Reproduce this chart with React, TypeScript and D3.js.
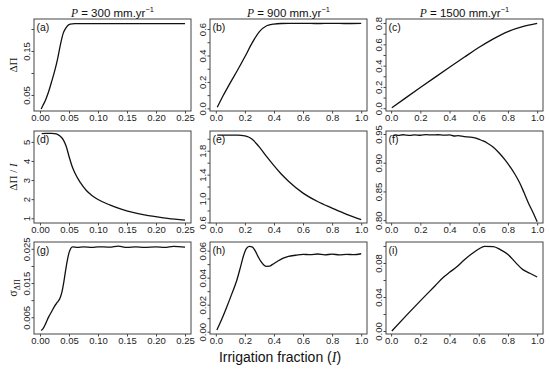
import React, { useEffect, useRef } from 'react';
import * as d3 from 'd3';

// Column titles (precipitation) and row labels
const precipitation = ['300', '900', '1500'];
const panelLetters = ['(a)', '(b)', '(c)', '(d)', '(e)', '(f)', '(g)', '(h)', '(i)'];

// x tick values per column
const xTicksNarrow = [0, 0.05, 0.1, 0.15, 0.2, 0.25];
const xTicksWide = [0, 0.2, 0.4, 0.6, 0.8, 1.0];

// Row 1: delta Pi
const seriesA: [number, number][] = [
  [0.002, 0.018], [0.005, 0.026], [0.01, 0.040], [0.015, 0.058], [0.02, 0.080],
  [0.025, 0.103], [0.03, 0.130], [0.035, 0.163], [0.04, 0.190], [0.044, 0.201],
  [0.048, 0.208], [0.052, 0.211], [0.06, 0.212], [0.1, 0.212], [0.15, 0.212],
  [0.2, 0.212], [0.25, 0.212],
];
const seriesB: [number, number][] = [
  [0.01, 0.008], [0.05, 0.095], [0.1, 0.195], [0.15, 0.29], [0.2, 0.39],
  [0.25, 0.495], [0.3, 0.58], [0.35, 0.625], [0.4, 0.638], [0.45, 0.642],
  [0.5, 0.643], [0.6, 0.643], [0.7, 0.642], [0.8, 0.643], [0.9, 0.642], [1.0, 0.643],
];
const seriesC: [number, number][] = [
  [0.005, 0.004], [0.1, 0.097], [0.2, 0.194], [0.3, 0.29], [0.4, 0.385],
  [0.5, 0.478], [0.6, 0.57], [0.7, 0.652], [0.8, 0.72], [0.9, 0.766], [1.0, 0.796],
];

// Row 2: delta Pi / I
const seriesD: [number, number][] = [
  [0.003, 5.43], [0.01, 5.45], [0.02, 5.45], [0.028, 5.42], [0.034, 5.32],
  [0.04, 5.12], [0.045, 4.78], [0.05, 4.25], [0.055, 3.75], [0.06, 3.38],
  [0.07, 2.85], [0.08, 2.45], [0.09, 2.18], [0.1, 1.98], [0.12, 1.7],
  [0.14, 1.48], [0.16, 1.31], [0.18, 1.18], [0.2, 1.08], [0.22, 0.99], [0.25, 0.9],
];
const seriesE: [number, number][] = [
  [0.01, 2.06], [0.1, 2.06], [0.15, 2.06], [0.2, 2.05], [0.225, 2.03],
  [0.25, 1.99], [0.275, 1.93], [0.3, 1.86], [0.35, 1.7], [0.4, 1.55],
  [0.45, 1.41], [0.5, 1.29], [0.6, 1.09], [0.7, 0.95], [0.8, 0.84],
  [0.9, 0.735], [1.0, 0.645],
];
const seriesF: [number, number][] = [
  [0.01, 0.9465], [0.03, 0.9485], [0.05, 0.9478], [0.08, 0.9488], [0.1, 0.9482],
  [0.13, 0.9476], [0.16, 0.9486], [0.2, 0.9479], [0.24, 0.9489], [0.28, 0.9484],
  [0.32, 0.9488], [0.36, 0.948], [0.4, 0.9484], [0.43, 0.9466], [0.46, 0.9472],
  [0.5, 0.9455], [0.54, 0.9448], [0.58, 0.943], [0.6, 0.941], [0.63, 0.938],
  [0.66, 0.934], [0.7, 0.927], [0.74, 0.917], [0.78, 0.905], [0.82, 0.891],
  [0.85, 0.879], [0.88, 0.865], [0.91, 0.848], [0.94, 0.83], [0.97, 0.814], [1.0, 0.797],
];

// Row 3: sigma of delta Pi
const seriesG: [number, number][] = [
  [0.002, 0.0011], [0.005, 0.0016], [0.01, 0.0032], [0.015, 0.0051], [0.02, 0.0066],
  [0.025, 0.0082], [0.03, 0.0094], [0.035, 0.0108], [0.038, 0.0125], [0.041, 0.0152],
  [0.044, 0.0185], [0.047, 0.0215], [0.05, 0.0238], [0.053, 0.0251], [0.056, 0.0256],
  [0.065, 0.0254], [0.075, 0.0256], [0.09, 0.0254], [0.1, 0.0256], [0.12, 0.0255],
  [0.135, 0.0258], [0.15, 0.0254], [0.165, 0.0256], [0.18, 0.0254], [0.2, 0.0256],
  [0.215, 0.0254], [0.23, 0.0257], [0.25, 0.0255],
];
const seriesH: [number, number][] = [
  [0.007, 0.0012], [0.04, 0.009], [0.076, 0.0185], [0.11, 0.028], [0.145, 0.0383],
  [0.17, 0.048], [0.19, 0.056], [0.21, 0.0615], [0.23, 0.0632], [0.25, 0.0628],
  [0.27, 0.060], [0.29, 0.0558], [0.31, 0.052], [0.33, 0.0494], [0.35, 0.0484],
  [0.37, 0.0485], [0.39, 0.0498], [0.42, 0.0518], [0.46, 0.0543], [0.5, 0.0558],
  [0.55, 0.0566], [0.6, 0.0573], [0.65, 0.057], [0.7, 0.0575], [0.75, 0.0569],
  [0.8, 0.0574], [0.85, 0.0569], [0.9, 0.0573], [0.95, 0.057], [1.0, 0.0577],
];
const seriesI: [number, number][] = [
  [0.005, 0.0], [0.1, 0.0175], [0.2, 0.0355], [0.3, 0.053], [0.36, 0.0635],
  [0.4, 0.069], [0.45, 0.0755], [0.5, 0.0835], [0.55, 0.0905], [0.6, 0.0965],
  [0.64, 0.0995], [0.7, 0.0993], [0.75, 0.0955], [0.8, 0.09], [0.85, 0.081],
  [0.9, 0.0725], [0.95, 0.068], [1.0, 0.0635],
];

// y ticks: all ticks, and which of them get a label
const yTicksA = [0.05, 0.1, 0.15, 0.2];
const yLabelsA = [0.05, 0.15];
const yTicksB = [0, 0.1, 0.2, 0.3, 0.4, 0.5, 0.6];
const yLabelsB = [0, 0.2, 0.4, 0.6];
const yTicksC = [0, 0.1, 0.2, 0.3, 0.4, 0.5, 0.6, 0.7, 0.8];
const yLabelsC = [0, 0.2, 0.4, 0.6, 0.8];
const yTicksD = [1, 2, 3, 4, 5];
const yTicksE = [0.6, 0.8, 1.0, 1.2, 1.4, 1.6, 1.8, 2.0];
const yLabelsE = [0.6, 1.0, 1.4, 1.8];
const yTicksF = [0.8, 0.85, 0.9, 0.95];
const yTicksG = [0.005, 0.01, 0.015, 0.02, 0.025];
const yLabelsG = [0.005, 0.015, 0.025];
const yTicksH = [0, 0.01, 0.02, 0.03, 0.04, 0.05, 0.06];
const yLabelsH = [0, 0.02, 0.04, 0.06];
const yTicksI = [0, 0.02, 0.04, 0.06, 0.08, 0.1];
const yLabelsI = [0, 0.04, 0.08];

const panels = [
  { data: seriesA, xd: [-0.0103, 0.2603], yd: [0.0136, 0.2227], xt: xTicksNarrow, xf: '.2f', yt: yTicksA, yl: yLabelsA, yf: '.2f' },
  { data: seriesB, xd: [-0.04, 1.04], yd: [-0.02, 0.676], xt: xTicksWide, xf: '.1f', yt: yTicksB, yl: yLabelsB, yf: '.1f' },
  { data: seriesC, xd: [-0.035, 1.04], yd: [-0.026, 0.838], xt: xTicksWide, xf: '.1f', yt: yTicksC, yl: yLabelsC, yf: '.1f' },
  { data: seriesD, xd: [-0.0103, 0.2603], yd: [0.75, 5.57], xt: xTicksNarrow, xf: '.2f', yt: yTicksD, yl: yTicksD, yf: 'd' },
  { data: seriesE, xd: [-0.04, 1.04], yd: [0.59, 2.13], xt: xTicksWide, xf: '.1f', yt: yTicksE, yl: yLabelsE, yf: '.1f' },
  { data: seriesF, xd: [-0.035, 1.04], yd: [0.795, 0.9553], xt: xTicksWide, xf: '.1f', yt: yTicksF, yl: yTicksF, yf: '.2f' },
  { data: seriesG, xd: [-0.0103, 0.2603], yd: [0.0001, 0.027], xt: xTicksNarrow, xf: '.2f', yt: yTicksG, yl: yLabelsG, yf: '.3f' },
  { data: seriesH, xd: [-0.04, 1.04], yd: [-0.0017, 0.0664], xt: xTicksWide, xf: '.1f', yt: yTicksH, yl: yLabelsH, yf: '.2f' },
  { data: seriesI, xd: [-0.035, 1.04], yd: [-0.0035, 0.1047], xt: xTicksWide, xf: '.1f', yt: yTicksI, yl: yLabelsI, yf: '.2f' },
];

const App = () => {
  const svgRef = useRef<SVGSVGElement | null>(null);

  useEffect(() => {
    const svg = d3.select(svgRef.current);
    svg.selectAll('*').remove();

    const colLeft = [34, 210, 386];
    const rowTop = [19, 131, 242];
    const pw = 157;
    const ph = 92;
    const sans = 'Liberation Sans, Arial, sans-serif';
    const serif = 'Liberation Serif, Times New Roman, serif';

    panels.forEach((p, i) => {
      const col = i % 3;
      const row = Math.floor(i / 3);
      const g = svg.append('g').attr('transform', `translate(${colLeft[col]},${rowTop[row]})`);

      const x = d3.scaleLinear().domain(p.xd).range([0, pw]);
      const y = d3.scaleLinear().domain(p.yd).range([ph, 0]);

      // x axis
      const xa = g.append('g')
        .attr('transform', `translate(0,${ph})`)
        .call(d3.axisBottom(x).tickValues(p.xt).tickSize(2.5).tickPadding(1).tickFormat(d3.format(p.xf)));
      xa.select('.domain').remove();
      xa.selectAll('line').attr('stroke', '#444');
      xa.selectAll('text').style('font-family', sans).style('font-size', '9.5px').attr('fill', '#222');

      // y axis with rotated labels, some ticks unlabelled
      const fmt = d3.format(p.yf);
      const ya = g.append('g')
        .call(d3.axisLeft(y).tickValues(p.yt).tickSize(2.5)
          .tickFormat((d: any) => (p.yl.some(v => Math.abs(v - d) < 1e-9) ? fmt(d) : '')));
      ya.select('.domain').remove();
      ya.selectAll('line').attr('stroke', '#444');
      ya.selectAll('text')
        .attr('x', 0).attr('y', 0).attr('dy', 0)
        .attr('text-anchor', 'middle')
        .attr('transform', 'translate(-4.5,0) rotate(-90)')
        .style('font-family', sans).style('font-size', '9.5px').attr('fill', '#222');

      // box
      g.append('rect')
        .attr('width', pw).attr('height', ph)
        .attr('fill', 'none').attr('stroke', '#444').attr('stroke-width', 1);

      // curve
      const line = d3.line<[number, number]>()
        .x(d => x(d[0]))
        .y(d => y(d[1]))
        .curve(d3.curveMonotoneX);
      g.append('path')
        .datum(p.data)
        .attr('fill', 'none')
        .attr('stroke', '#111')
        .attr('stroke-width', 1.3)
        .attr('d', line);

      // panel letter
      g.append('text')
        .attr('x', 2.5).attr('y', 12)
        .style('font-family', sans).style('font-size', '10.5px')
        .attr('fill', '#111')
        .text(panelLetters[i]);
    });

    // column titles
    precipitation.forEach((v, c) => {
      const t = svg.append('text')
        .attr('x', colLeft[c] + pw / 2).attr('y', 16.5)
        .attr('text-anchor', 'middle')
        .style('font-family', sans).style('font-size', '11.5px')
        .attr('fill', '#111');
      t.append('tspan').style('font-family', serif).style('font-style', 'italic').text('P');
      t.append('tspan').text(` = ${v} mm.yr`);
      t.append('tspan').attr('dy', -4.5).style('font-size', '7.5px').text('\u22121');
    });

    // row titles
    const rowMid = (r: number) => rowTop[r] + ph / 2;
    const ylab = (r: number) => svg.append('text')
      .attr('transform', `translate(17,${rowMid(r)}) rotate(-90)`)
      .attr('text-anchor', 'middle')
      .style('font-family', serif).style('font-size', '11px')
      .attr('fill', '#111');

    ylab(0).text('\u0394\u03a0');
    const l2 = ylab(1);
    l2.append('tspan').text('\u0394\u03a0 / ');
    l2.append('tspan').style('font-style', 'italic').text('I');
    const l3 = ylab(2);
    l3.append('tspan').style('font-size', '12px').text('\u03c3');
    l3.append('tspan').attr('dy', 2.5).style('font-size', '8px').text('\u0394\u03a0');

    // x title
    const xt = svg.append('text')
      .attr('x', 280).attr('y', 362)
      .attr('text-anchor', 'middle')
      .style('font-family', sans).style('font-size', '14px')
      .attr('fill', '#111');
    xt.append('tspan').text('Irrigation fraction (');
    xt.append('tspan').style('font-family', serif).style('font-style', 'italic').text('I');
    xt.append('tspan').text(')');
  }, []);

  return (
    <svg
      ref={svgRef}
      width={550}
      height={371}
      style={{ position: 'absolute', left: 0, top: 0, background: '#fff' }}
    />
  );
};

export default App;
